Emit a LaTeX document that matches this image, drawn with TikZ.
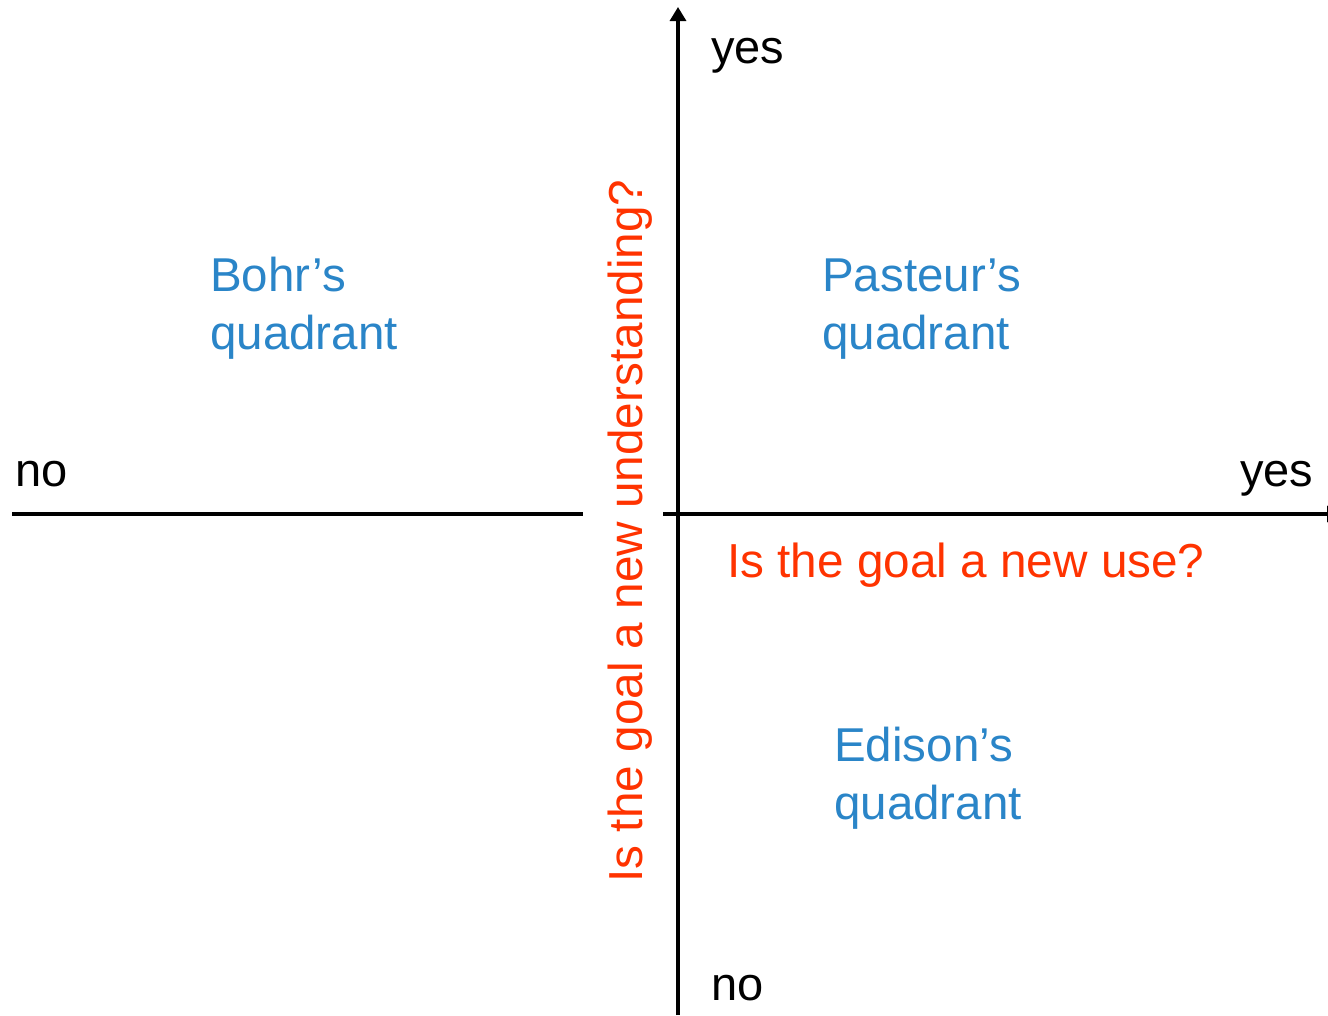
\documentclass[tikz,border=0pt]{standalone}
\usepackage{fontspec}
\setmainfont{Liberation Sans}
\usetikzlibrary{arrows.meta}
\definecolor{quadblue}{RGB}{42,133,200}
\definecolor{qred}{RGB}{255,51,0}
\tikzset{
  axis/.style={line width=3.2pt,-{Triangle[width=16pt,length=14pt]}},
  plainaxis/.style={line width=3.2pt},
  lbl/.style={inner sep=0pt,anchor=base west,font=\fontsize{47}{58}\selectfont},
  quad/.style={lbl,font=\fontsize{47.5}{58}\selectfont,text=quadblue},
  question/.style={lbl,font=\fontsize{47.7}{58}\selectfont,text=qred},
}
\begin{document}
\begin{tikzpicture}[x=1pt,y=-1pt]
\useasboundingbox (0,0) rectangle (1328,1015);
% axes
\coordinate (vbot) at (678,1015);
\coordinate (vtop) at (678,7);
\coordinate (hl1) at (12,514);
\coordinate (hl2) at (583,514);
\coordinate (hr1) at (663,514);
\coordinate (hr2) at (1341,514);
\draw[axis] (vbot) -- (vtop);
\draw[plainaxis] (hl1) -- (hl2);
\draw[axis] (hr1) -- (hr2);
% axis labels
\node[lbl] (yestop) at (711,63) {yes};
\node[lbl] (nobot) at (711,1000) {no};
\node[lbl] (noleft) at (15,486) {no};
\node[lbl] (yesright) at (1240,486) {yes};
% quadrants
\node[quad] (bohr1) at (210,291) {Bohr’s};
\node[quad] (bohr2) at (210,349) {quadrant};
\node[quad] (past1) at (822,291) {Pasteur’s};
\node[quad] (past2) at (822,349) {quadrant};
\node[quad] (edis1) at (834,761) {Edison’s};
\node[quad] (edis2) at (834,819) {quadrant};
% questions
\node[question] (quse) at (727,577) {Is the goal a new use?};
\node[question,anchor=base,rotate=90] (qund) at (642,531) {Is the goal a new understanding?};
\end{tikzpicture}
\end{document}
